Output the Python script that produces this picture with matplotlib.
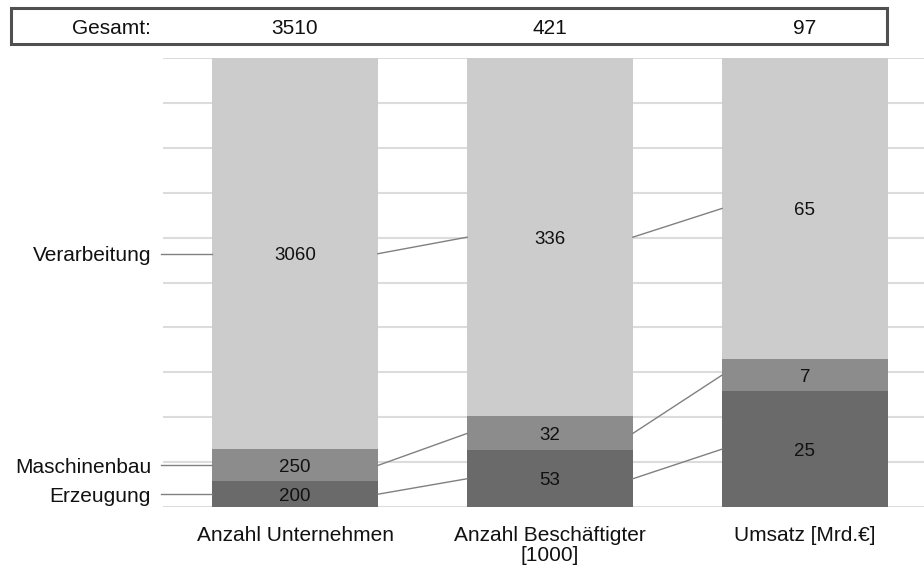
import numpy as np
import matplotlib.pyplot as plt
from matplotlib.patches import Rectangle
from matplotlib.transforms import blended_transform_factory

plt.rcParams['font.family'] = ['Liberation Sans', 'DejaVu Sans']

# Kategorien und Werte
kategorien = ['Anzahl Unternehmen', 'Anzahl Beschäftigter\n[1000]', 'Umsatz [Mrd.€]']
bereiche = ['Erzeugung', 'Maschinenbau', 'Verarbeitung']
erzeugung = [200, 53, 25]
maschinenbau = [250, 32, 7]
verarbeitung = [3060, 336, 65]
gesamt = [3510, 421, 97]

farben = ['#6a6a6a', '#8c8c8c', '#cccccc']

werte = np.array([erzeugung, maschinenbau, verarbeitung], dtype=float)
anteil = werte / np.array(gesamt) * 100
unten = np.vstack([np.zeros(3), np.cumsum(anteil, axis=0)[:-1]])
mitte = unten + anteil / 2

fig = plt.figure(figsize=(9.24, 5.70), dpi=100)
ax = fig.add_axes([163/924, 1 - 507/570, 1 - 163/924, (507 - 58)/570])

x = np.arange(len(kategorien))
b = 0.65

# Gitterlinien alle 10 %
for g in range(0, 101, 10):
    ax.axhline(g, color='#dcdcdc', lw=1.5, zorder=0)

for j in range(3):
    ax.bar(x, anteil[j], bottom=unten[j], width=b, color=farben[j], zorder=2)
    for i in range(3):
        ax.text(x[i], mitte[j][i], f'{werte[j][i]:.0f}', ha='center',
                va='center_baseline', fontsize=13.5, color='#111111', zorder=4)

# Verbindungslinien zwischen den Balken
for j in range(3):
    for i in range(2):
        ax.plot([x[i] + b/2, x[i+1] - b/2], [mitte[j][i], mitte[j][i+1]],
                color='#808080', lw=1, zorder=3)

# Beschriftung links
for j in range(3):
    ax.plot([-0.525, x[0] - b/2], [mitte[j][0], mitte[j][0]], color='#808080', lw=1,
            clip_on=False, zorder=3)
    ax.text(-0.565, mitte[j][0], bereiche[j], ha='right', va='center_baseline',
            fontsize=15, color='#111111')

ax.set_xlim(-0.518, 2.467)
ax.set_ylim(0, 100)
ax.set_xticks(x)
ax.set_xticklabels(kategorien, fontsize=15, linespacing=1.05, color='#111111')
ax.tick_params(axis='x', length=0, pad=14)
ax.set_yticks([])
for s in ax.spines.values():
    s.set_visible(False)

# Kopfzeile mit Gesamtwerten
fig.patches.append(Rectangle((11/924, 1 - 44/570), (887 - 11)/924, 36/570,
                             transform=fig.transFigure, fill=False,
                             edgecolor='#505050', lw=2.2))
kopf_y = 1 - 26/570
tr = blended_transform_factory(ax.transData, fig.transFigure)
ax.text(-0.72, kopf_y, 'Gesamt:', ha='center', va='center_baseline', fontsize=15,
        color='#111111', transform=tr)
for i in range(3):
    ax.text(x[i], kopf_y, str(gesamt[i]), ha='center', va='center_baseline',
            fontsize=15, color='#111111', transform=tr)

fig.savefig('out.png', dpi=100)
